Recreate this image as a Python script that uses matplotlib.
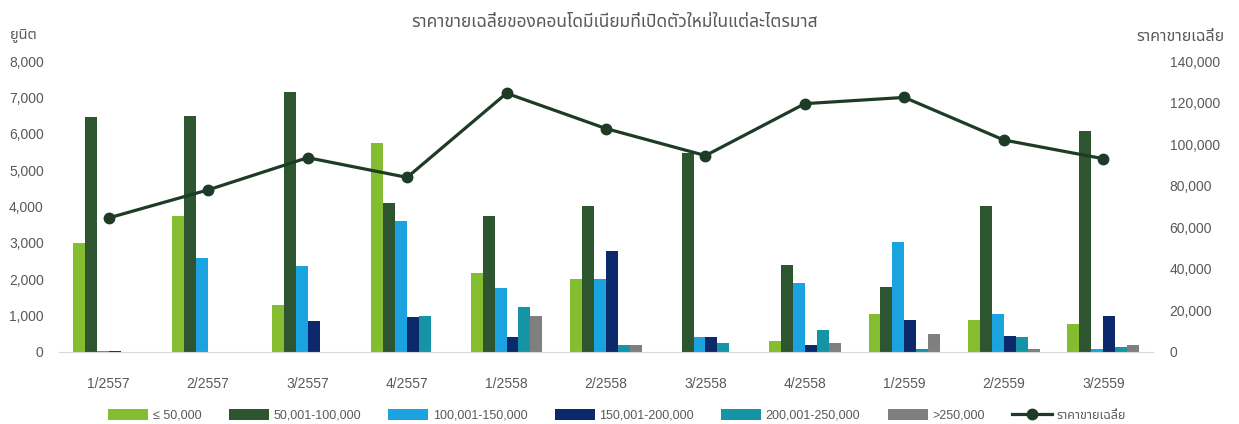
import matplotlib
matplotlib.use("Agg")
import matplotlib.pyplot as plt
import numpy as np

plt.rcParams['font.family'] = ['Liberation Sans', 'Noto Sans Thai', 'DejaVu Sans']

quarters = ['1/2557', '2/2557', '3/2557', '4/2557', '1/2558', '2/2558',
            '3/2558', '4/2558', '1/2559', '2/2559', '3/2559']

# units launched per price band (baht / sq.m.)
band_names = ['≤ 50,000', '50,001-100,000', '100,001-150,000',
              '150,001-200,000', '200,001-250,000', '>250,000']
le_50k = [3000, 3730, 1290, 5750, 2180, 2000, 0, 300, 1050, 880, 760]
b50_100k = [6450, 6500, 7150, 4100, 3750, 4000, 5480, 2380, 1780, 4000, 6080]
b100_150k = [30, 2580, 2350, 3600, 1770, 2000, 400, 1900, 3020, 1050, 80]
b150_200k = [30, 0, 850, 950, 400, 2780, 400, 200, 880, 450, 1000]
b200_250k = [0, 0, 0, 1000, 1230, 200, 250, 600, 80, 400, 130]
gt_250k = [0, 0, 0, 0, 1000, 200, 0, 250, 500, 80, 200]

avg_price = [64500, 78000, 93500, 84000, 124500, 107500, 94500, 119500,
             122500, 102000, 93000]

colors = ['#84BD2F', '#2C5530', '#1BA3E0', '#0C2A6B', '#1594A6', '#7F7F7F']
line_color = '#1E3B26'
grey = '#595959'

fig = plt.figure(figsize=(12.39, 4.24), dpi=100)
ax = fig.add_axes([0.0476, 0.170, 0.8830, 0.686])
ax2 = ax.twinx()

x = np.arange(len(quarters))
w = 0.12
series = [le_50k, b50_100k, b100_150k, b150_200k, b200_250k, gt_250k]
handles = []
for i, vals in enumerate(series):
    b = ax.bar(x + (i - 2.5) * w, vals, w, color=colors[i], label=band_names[i], zorder=2)
    handles.append(b)

ln, = ax2.plot(x, avg_price, color=line_color, lw=2.3, marker='o', ms=7.5,
               label='ราคาขายเฉลี่ย', zorder=3)
handles.append(ln)

ax.set_xlim(-0.5, len(quarters) - 0.5)
ax.set_ylim(0, 8000)
ax.set_yticks(np.arange(0, 8001, 1000))
ax.set_yticklabels(['{:,}'.format(v) for v in range(0, 8001, 1000)])
ax2.set_ylim(0, 140000)
ax2.set_yticks(np.arange(0, 140001, 20000))
ax2.set_yticklabels(['{:,}'.format(v) for v in range(0, 140001, 20000)])
ax.set_xticks(x)
ax.set_xticklabels(quarters)

for a in (ax, ax2):
    for s in ['top', 'left', 'right', 'bottom']:
        a.spines[s].set_visible(False)
    a.tick_params(length=0, colors=grey, labelsize=10)
ax.spines['bottom'].set_visible(True)
ax.spines['bottom'].set_color('#D9D9D9')
ax.tick_params(axis='x', pad=18)
ax.tick_params(axis='y', pad=11)
ax2.tick_params(axis='y', pad=12)

fig.text(0.496, 0.948, 'ราคาขายเฉลี่ยของคอนโดมีเนียมที่เปิดตัวใหม่ในแต่ละไตรมาส',
         ha='center', va='center', fontsize=12.5, color=grey)
fig.text(0.008, 0.915, 'ยูนิต', ha='left', va='center', fontsize=10.5, color=grey)
fig.text(0.988, 0.915, 'ราคาขายเฉลี่ย', ha='right', va='center', fontsize=11.5, color=grey)

fig.legend(handles=handles, loc='center', bbox_to_anchor=(0.498, 0.02), ncol=7,
           frameon=False, fontsize=9, handlelength=3.2, handleheight=0.95,
           columnspacing=2.2, handletextpad=0.35, labelcolor=grey)

fig.savefig('out.png', dpi=100)
